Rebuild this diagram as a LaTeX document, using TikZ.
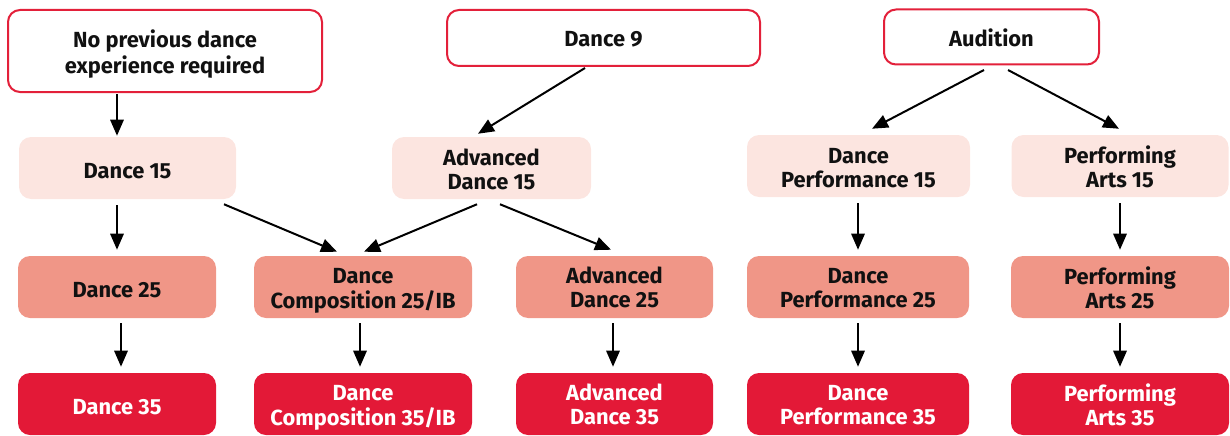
\documentclass[tikz,border=0pt]{standalone}
\usepackage{fontspec}
\setmainfont{Fira Sans}
\usetikzlibrary{calc,arrows.meta}
\definecolor{bordred}{HTML}{E3203A}
\definecolor{lightpink}{HTML}{FCE5E0}
\definecolor{salmon}{HTML}{F09687}
\definecolor{deepred}{HTML}{E31937}
\definecolor{txt}{HTML}{111111}
\newcommand{\lbl}[2][3.5pt]{\raisebox{-#1}[\height][\depth]{\begin{tabular}{@{}c@{}}#2\end{tabular}}}
\begin{document}
\begin{tikzpicture}[x=0.75pt,y=-0.75pt,
  base/.style={rounded corners=9pt,inner sep=0pt,
    font=\fontsize{16.4}{18}\selectfont\bfseries,text=txt},
  topbox/.style={base,draw=bordred,line width=1.5pt,fill=white},
  lvla/.style={base,fill=lightpink,minimum height=46.5pt},
  lvlb/.style={base,fill=salmon,minimum height=46.5pt},
  lvlc/.style={base,fill=deepred,text=white,minimum height=46.5pt},
  arr/.style={-{Triangle[length=12pt,width=10pt]},line width=1.5pt,black}]
\useasboundingbox (0,0) rectangle (1230,435);
% top row
\node[topbox,minimum width=235.5pt,minimum height=61.5pt,font=\fontsize{16.4}{19.5}\selectfont\bfseries] (n1) at (165,51) {\lbl[3pt]{No previous dance\\experience required}};
\node[topbox,minimum width=234.75pt,minimum height=42pt] (n2) at (603.5,38) {\lbl[2.8pt]{Dance 9}};
\node[topbox,minimum width=161.25pt,minimum height=41.25pt] (n3) at (991.5,37) {\lbl[3.5pt]{Audition}};
% row 2
\node[lvla,minimum width=162.75pt] (d15) at (127.5,168) {\lbl[4.2pt]{Dance 15}};
\node[lvla,minimum width=149.25pt] (ad15) at (491.5,168) {\lbl{Advanced\\Dance 15}};
\node[lvla,minimum width=167.25pt] (dp15) at (858.5,166) {\lbl{Dance\\Performance 15}};
\node[lvla,minimum width=162.75pt] (pa15) at (1120,166) {\lbl{Performing\\Arts 15}};
% row 3
\node[lvlb,minimum width=148.5pt] (d25) at (117,287) {\lbl[4.2pt]{Dance 25}};
\node[lvlb,minimum width=163.5pt] (dc25) at (363,287) {\lbl[3pt]{Dance\\Composition 25/IB}};
\node[lvlb,minimum width=147.75pt] (ad25) at (614.5,287) {\lbl[3pt]{Advanced\\Dance 25}};
\node[lvlb,minimum width=166.5pt] (dp25) at (858,287) {\lbl[3pt]{Dance\\Performance 25}};
\node[lvlb,minimum width=163.5pt] (pa25) at (1120,287) {\lbl[3pt]{Performing\\Arts 25}};
% row 4
\node[lvlc,minimum width=148.5pt] (d35) at (117,404) {\lbl[4.2pt]{Dance 35}};
\node[lvlc,minimum width=163.5pt] (dc35) at (363,404) {\lbl[3pt]{Dance\\Composition 35/IB}};
\node[lvlc,minimum width=147.75pt] (ad35) at (614.5,404) {\lbl[3pt]{Advanced\\Dance 35}};
\node[lvlc,minimum width=166.5pt] (dp35) at (858,404) {\lbl[3pt]{Dance\\Performance 35}};
\node[lvlc,minimum width=163.5pt] (pa35) at (1120,404) {\lbl[3pt]{Performing\\Arts 35}};
% arrows
\draw[arr] ($(n1.south)+(-48,1)$) -- ($(d15.north)+(-10.5,-1)$);
\draw[arr] ($(n2.south)+(-18.5,1)$) -- ($(ad15.north)+(-13.5,-3)$);
\draw[arr] ($(n3.south)+(-7.5,4.5)$) -- ($(dp15.north)+(13.5,-6)$);
\draw[arr] ($(n3.south)+(16.5,4.5)$) -- ($(pa15.north)+(-1,-6)$);
\draw[arr] ($(d15.south)+(96.5,5)$) -- ($(dc25.north)+(-26,-4)$);
\draw[arr] ($(ad15.south)+(-14.5,5)$) -- ($(dc25.north)+(1,-4)$);
\draw[arr] ($(ad15.south)+(8.5,5)$) -- ($(ad25.north)+(-3.5,-6)$);
\draw[arr] ($(d15.south)+(-10.5,6)$) -- ($(d25.north)+(0,-6)$);
\draw[arr] ($(dp15.south)+(-0.5,6)$) -- ($(dp25.north)+(0,-6)$);
\draw[arr] ($(pa15.south)+(0,6)$) -- ($(pa25.north)+(0,-6)$);
\draw[arr] ($(d25.south)+(4,5)$) -- ($(d35.north)+(4,-6)$);
\draw[arr] ($(dc25.south)+(-3,5)$) -- ($(dc35.north)+(-3,-6)$);
\draw[arr] ($(ad25.south)+(-1.5,5)$) -- ($(ad35.north)+(-1.5,-6)$);
\draw[arr] ($(dp25.south)+(0,5)$) -- ($(dp35.north)+(0,-6)$);
\draw[arr] ($(pa25.south)+(0,5)$) -- ($(pa35.north)+(0,-6)$);
\end{tikzpicture}
\end{document}
